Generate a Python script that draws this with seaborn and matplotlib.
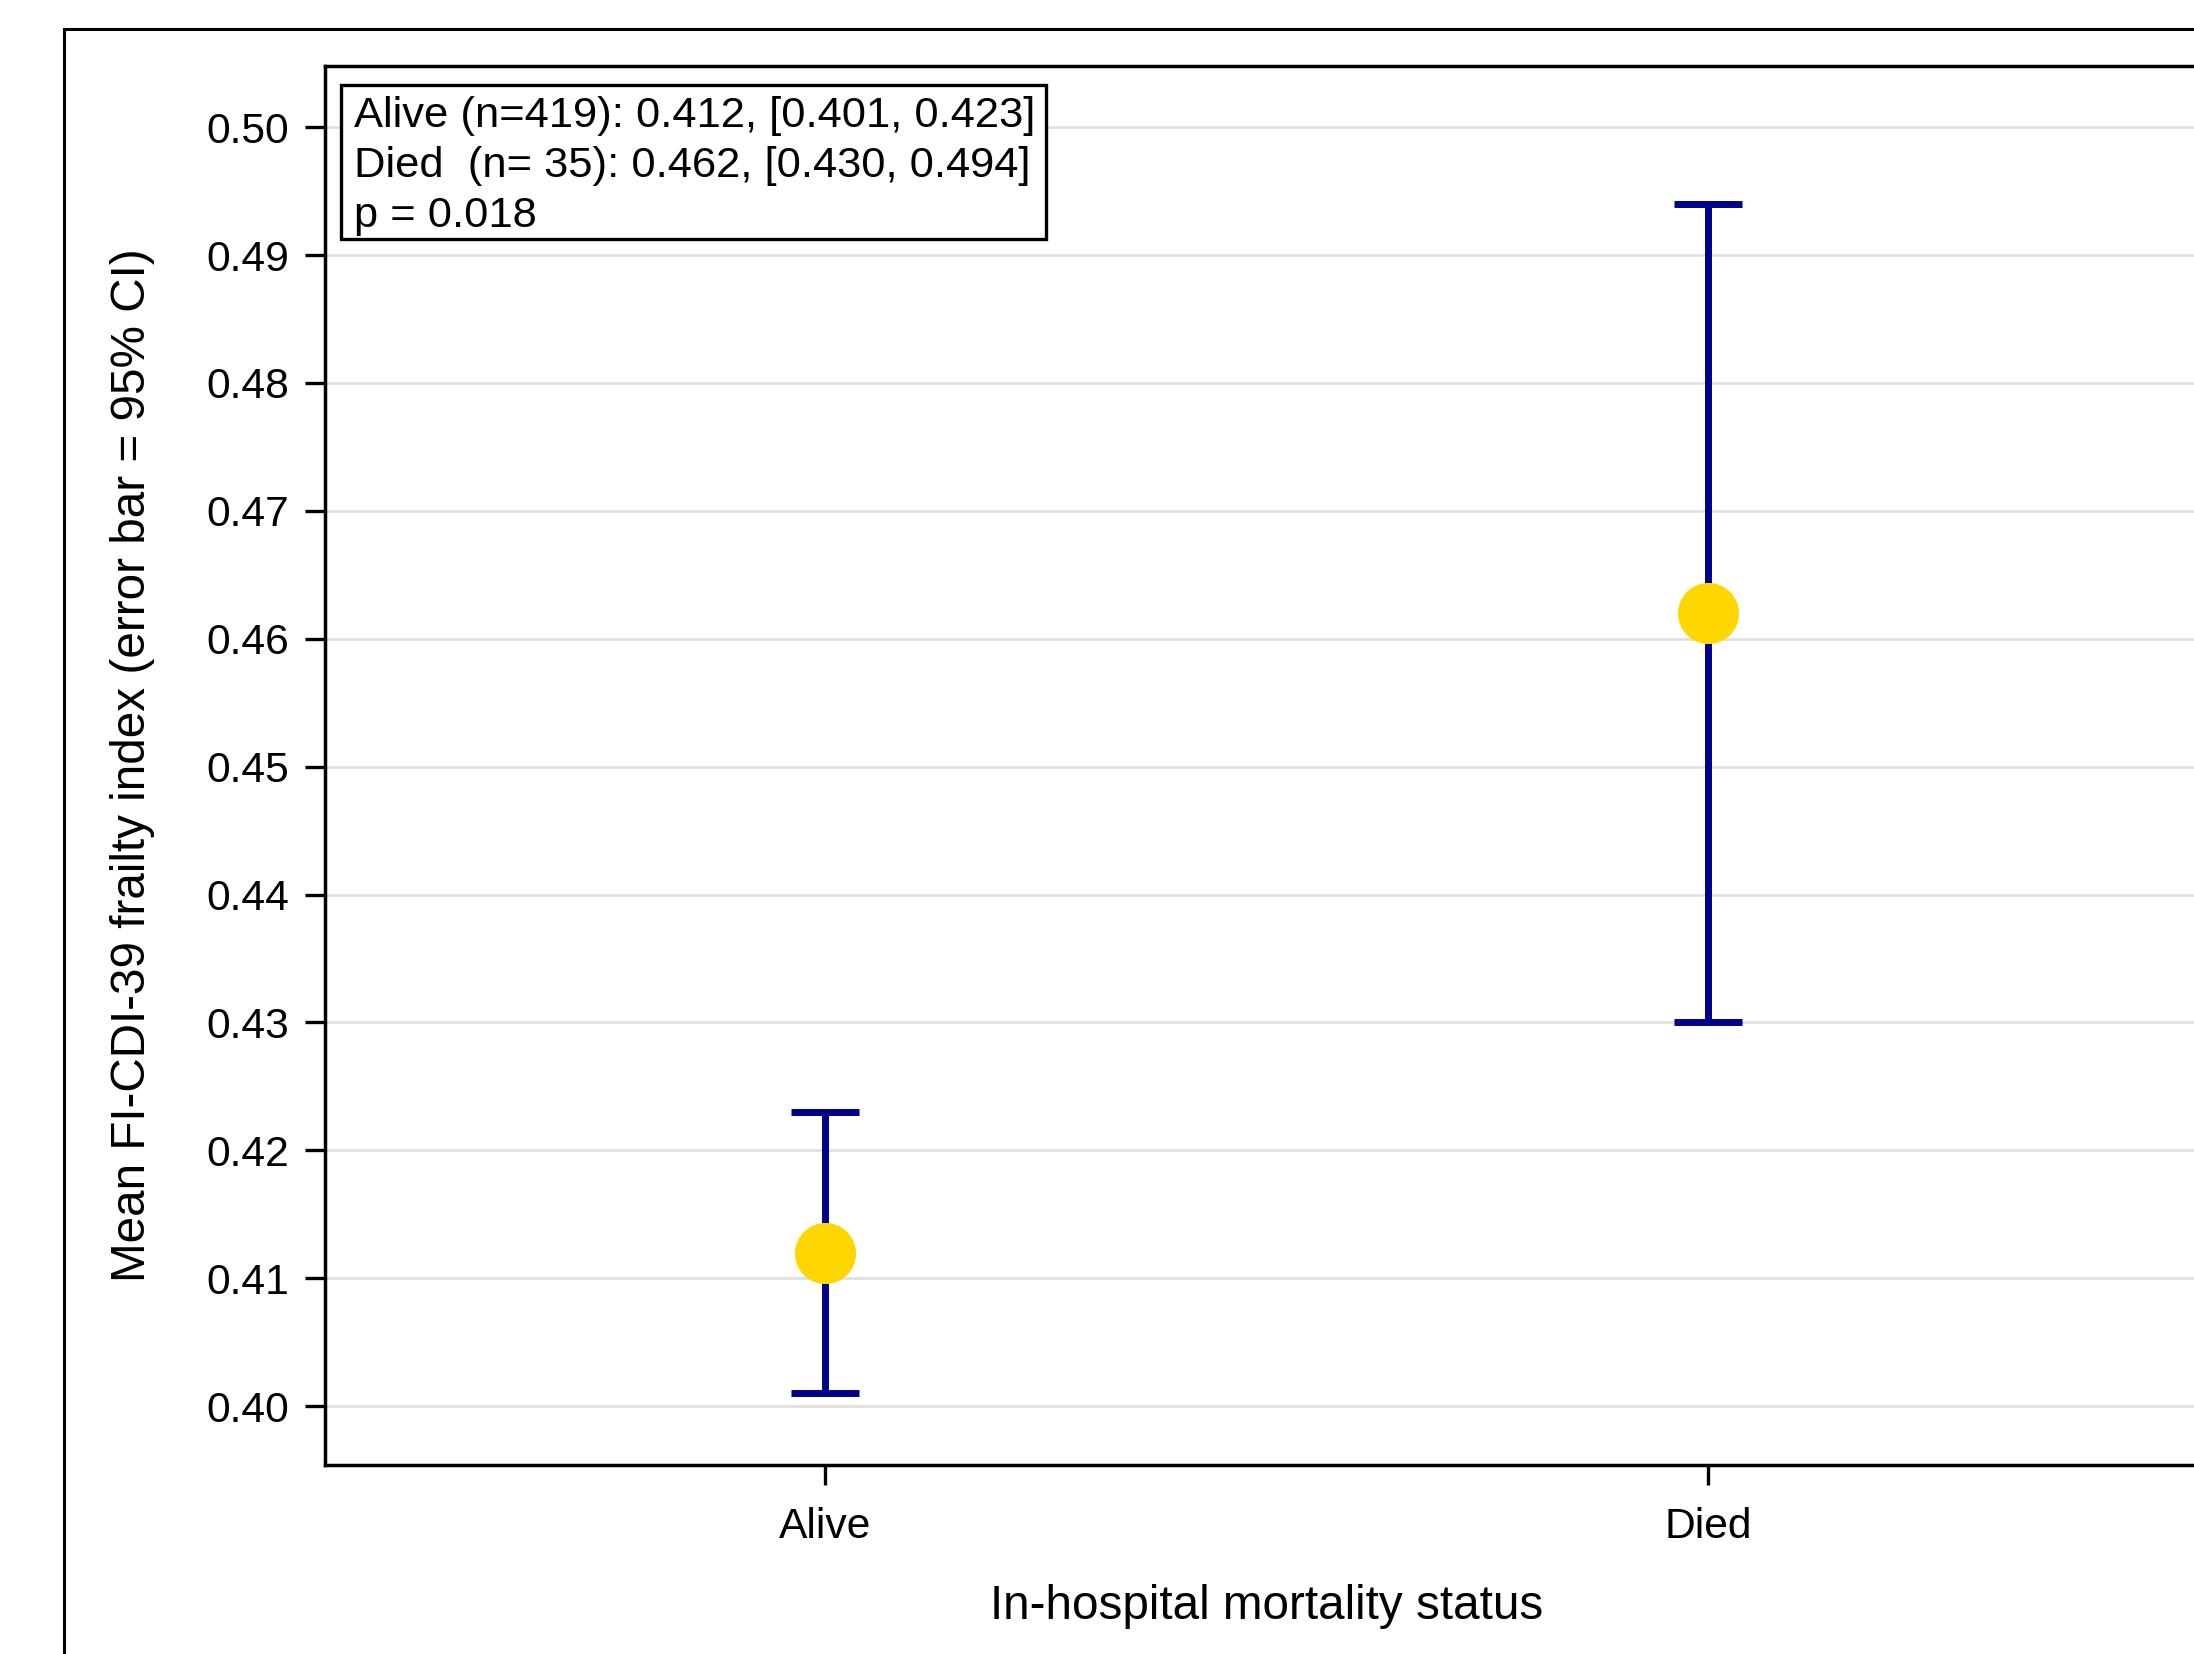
import numpy as np
import pandas as pd
import matplotlib
matplotlib.use("Agg")
import matplotlib.pyplot as plt
from matplotlib.patches import Rectangle
import seaborn as sns

# ---- data ----
groups = ["Alive", "Died"]
n_obs = [419, 35]
means = [0.412, 0.462]
ci_low = [0.401, 0.430]
ci_high = [0.423, 0.494]
p_value = 0.018
y_ticks = [0.40, 0.41, 0.42, 0.43, 0.44, 0.45, 0.46, 0.47, 0.48, 0.49, 0.50]
x_title = "In-hospital mortality status"
y_title = "Mean FI-CDI-39 frailty index (error bar = 95% CI)"

df = pd.DataFrame({"group": groups, "n": n_obs, "mean": means,
                   "lo": ci_low, "hi": ci_high})

sns.set_theme(style="white")
plt.rcParams['font.family'] = ['Liberation Sans', 'DejaVu Sans']
plt.rcParams['text.color'] = 'black'
plt.rcParams['axes.labelcolor'] = 'black'
plt.rcParams['xtick.color'] = 'black'
plt.rcParams['ytick.color'] = 'black'

W, H = 2194, 1654
fig = plt.figure(figsize=(W / 100, H / 100), dpi=100)
ax_l, ax_r, ax_t, ax_b = 324.6, 2209.0, 65.8, 1465.0
ax = fig.add_axes([ax_l / W, 1 - ax_b / H, (ax_r - ax_l) / W, (ax_b - ax_t) / H])

navy = "#00008B"
gold = "#FFD700"

# mean markers
sns.pointplot(data=df, x="group", y="mean", order=groups, errorbar=None,
              linestyle="none", marker="o", markersize=44, color=gold,
              markeredgewidth=0, zorder=5, ax=ax)

# confidence intervals
pos = np.arange(len(groups))
ax.errorbar(pos, df["mean"], yerr=[df["mean"] - df["lo"], df["hi"] - df["mean"]],
            fmt="none", ecolor=navy, elinewidth=5.0, capsize=24.5, capthick=5.0,
            zorder=3)

ax.set_xlim(-0.567, 1.567)
ax.set_ylim(0.3954, 0.5048)
ax.set_yticks(y_ticks)
ax.set_yticklabels([f"{v:.2f}" for v in y_ticks])
ax.set_xticks(pos)
ax.set_xticklabels(groups)

ax.yaxis.grid(True, color="#e0e0e0", linewidth=2.0)
ax.xaxis.grid(False)
ax.set_axisbelow(True)

for s in ax.spines.values():
    s.set_visible(True)
    s.set_color("black")
    s.set_linewidth(2.5)

ax.tick_params(axis="y", direction="out", length=14.5, width=2.4, color="black",
               labelcolor="black", labelsize=30.7, pad=11, left=True)
ax.tick_params(axis="x", direction="out", length=14.5, width=2.4, color="black",
               labelcolor="black", labelsize=30.7, pad=16, bottom=True)

ax.set_xlabel(x_title, fontsize=34.3, color="black")
ax.set_ylabel(y_title, fontsize=34.3, color="black")
ax.xaxis.set_label_coords(0.5, -(1584 - ax_b) / (ax_b - ax_t))
ax.yaxis.set_label_coords(-(ax_l - 155) / (ax_r - ax_l), 0.5)

# info box
fig.patches.append(Rectangle((341 / W, 1 - 239 / H), (1046 - 341) / W, (239 - 85) / H,
                             transform=fig.transFigure, facecolor="white",
                             edgecolor="black", linewidth=2.4, zorder=3))
lines = [f"{g:<5} (n={n:>3}): {m:.3f}, [{lo:.3f}, {hi:.3f}]"
         for g, n, m, lo, hi in zip(groups, n_obs, means, ci_low, ci_high)]
lines.append(f"p = {p_value:.3f}")
for i, txt in enumerate(lines):
    fig.text(354 / W, 1 - (127 + 50 * i) / H, txt, fontsize=31.3, ha="left",
             va="baseline", color="black", zorder=4)

# outer frame
fig.patches.append(Rectangle((64 / W, -0.2), 2.0, 1.2 - 29 / H,
                             transform=fig.transFigure, fill=False,
                             edgecolor="black", linewidth=2.2, zorder=1))

fig.savefig("out.png", dpi=100)
